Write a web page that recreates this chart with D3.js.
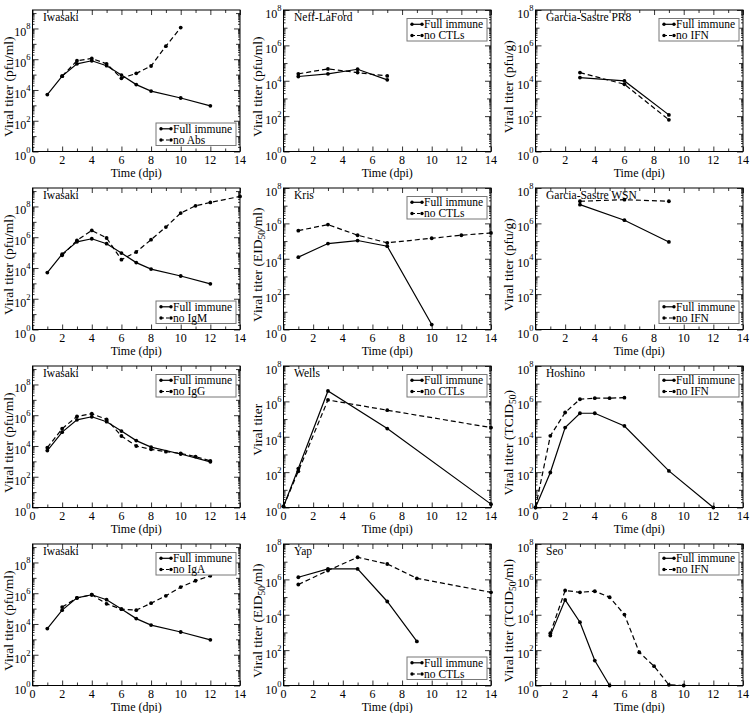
<!DOCTYPE html>
<html><head><meta charset="utf-8">
<script src="https://cdn.jsdelivr.net/npm/d3@7/dist/d3.min.js"></script>
<style>body{margin:0;background:#fff}svg{display:block}</style>
</head><body><svg id="c" width="751" height="713"></svg>
<script>
// ---- data (log10 of viral titer) ----
const titles = ["Iwasaki","Neff-LaFord","Garcia-Sastre PR8","Iwasaki","Kris","Garcia-Sastre WSN","Iwasaki","Wells","Hoshino","Iwasaki","Yap","Seo"];
const seriesNames = [["Full immune","no Abs"],["Full immune","no CTLs"],["Full immune","no IFN"],["Full immune","no IgM"],["Full immune","no CTLs"],["Full immune","no IFN"],["Full immune","no IgG"],["Full immune","no CTLs"],["Full immune","no IFN"],["Full immune","no IgA"],["Full immune","no CTLs"],["Full immune","no IFN"]];
const yUnits = ["pfu/ml","pfu/ml","pfu/g","pfu/ml","EID|50|/ml","pfu/g","pfu/ml","","TCID|50|","pfu/ml","EID|50|/ml","TCID|50|/ml"];
const legendPos = ["bottom","top","top","bottom","top","bottom","top","top","top","top","bottom","top"];
const xTicks = [0,2,4,6,8,10,12,14];
const yTickExps = [0,2,4,6,8];

const iwaDays = [1,2,3,4,5,6,7,8,10,12];
const iwaFull = [3.7,4.9,5.7,5.9,5.58,4.97,4.35,3.93,3.48,2.97];

const p1Full = {x: iwaDays, y: iwaFull};
const p1Dash = {x:[2,3,4,5,6,7,8,9,10], y:[4.9,5.9,6.05,5.7,4.76,5.08,5.56,6.85,8.06]};
const p2Full = {x:[1,3,5,7], y:[4.24,4.39,4.65,4.05]};
const p2Dash = {x:[1,3,5,7], y:[4.39,4.67,4.46,4.27]};
const p3Full = {x:[3,6,9], y:[4.18,3.99,2.07]};
const p3Dash = {x:[3,6,9], y:[4.46,3.8,1.79]};
const p4Full = {x: iwaDays, y: iwaFull};
const p4Dash = {x:[2,3,4,5,6,7,8,9,10,11,12,14], y:[4.82,5.8,6.44,5.95,4.54,5.04,5.84,6.66,7.57,8.04,8.26,8.65]};
const p5Full = {x:[1,3,5,7,10], y:[4.09,4.86,5.03,4.71,0.28]};
const p5Dash = {x:[1,3,5,7,10,12,14], y:[5.59,5.93,5.33,4.9,5.16,5.33,5.46]};
const p6Full = {x:[3,6,9], y:[7.06,6.18,4.95]};
const p6Dash = {x:[3,6,9], y:[7.25,7.34,7.25]};
const p7Full = {x: iwaDays, y: iwaFull};
const p7Dash = {x:[1,2,3,4,5,6,7,8,9,10,11,12], y:[3.89,5.12,5.92,6.1,5.73,4.65,4.0,3.78,3.63,3.52,3.31,3.03]};
const p8Full = {x:[0,1,3,7,14], y:[0.06,2.2,6.59,4.46,0.19]};
const p8Dash = {x:[0,1,3,7,14], y:[0.06,2.05,6.08,5.5,4.52]};
const p9Full = {x:[0,1,2,3,4,6,9,12], y:[0,1.98,4.52,5.33,5.33,4.61,2.07,0]};
const p9Dash = {x:[0,1,2,3,4,5,6], y:[0,4.05,5.37,6.12,6.18,6.18,6.21]};
const p10Full = {x: iwaDays, y: iwaFull};
const p10Dash = {x:[2,3,4,5,6,7,8,9,10,11,12], y:[5.1,5.69,5.9,5.31,4.96,4.9,5.35,5.83,6.4,6.81,7.13]};
const p11Full = {x:[1,3,5,7,9], y:[6.12,6.59,6.59,4.75,2.49]};
const p11Dash = {x:[1,3,5,7,9,14], y:[5.71,6.5,7.25,6.87,6.06,5.27]};
const p12Full = {x:[1,2,3,4,5], y:[2.82,4.84,3.58,1.41,0]};
const p12Dash = {x:[1,2,3,4,5,6,7,8,9,10], y:[2.96,5.37,5.27,5.33,4.99,4.01,1.88,1.09,0.04,0]};

const fullSeries = [p1Full,p2Full,p3Full,p4Full,p5Full,p6Full,p7Full,p8Full,p9Full,p10Full,p11Full,p12Full];
const dashSeries = [p1Dash,p2Dash,p3Dash,p4Dash,p5Dash,p6Dash,p7Dash,p8Dash,p9Dash,p10Dash,p11Dash,p12Dash];

// ---- layout ----
const svg = d3.select("#c");
const FF = "'Liberation Serif', 'Times New Roman', Times, serif";
svg.style("font-family", FF);
const colLeft = [32.5, 283.5, 535.5];
const plotW = 207.5, plotH = 141.5, rowStep = 178, top0 = 10;

titles.forEach((title, i) => {
  const r = Math.floor(i/3), c = i%3;
  const L = colLeft[c], R = L + plotW, T = top0 + r*rowStep, B = T + plotH;
  const yTopExp = c === 0 ? 9.2 : 8;
  const x = d3.scaleLinear().domain([0,14]).range([L,R]);
  const y = d3.scaleLog().domain([1, Math.pow(10,yTopExp)]).range([B,T]);
  const g = svg.append("g");
  const txt = () => g.append("text").style("font-family", FF).attr("fill","#000");

  // axes (inward ticks on all four sides)
  const xMinor = d3.range(0,15,1).filter(v=>v%2);
  g.append("g").attr("transform",`translate(0,${B})`).call(d3.axisBottom(x).tickValues(xTicks).tickSizeInner(-5).tickSizeOuter(0).tickFormat(""));
  g.append("g").attr("transform",`translate(0,${T})`).call(d3.axisTop(x).tickValues(xTicks).tickSizeInner(-5).tickSizeOuter(0).tickFormat(""));
  g.append("g").attr("transform",`translate(0,${B})`).call(d3.axisBottom(x).tickValues(xMinor).tickSizeInner(-3).tickSizeOuter(0).tickFormat(""));
  g.append("g").attr("transform",`translate(0,${T})`).call(d3.axisTop(x).tickValues(xMinor).tickSizeInner(-3).tickSizeOuter(0).tickFormat(""));
  const majY = yTickExps.map(e=>Math.pow(10,e));
  const oddY = d3.range(1, Math.floor(yTopExp)+1, 2).map(e=>Math.pow(10,e));
  const subY = [];
  for (let e=0; e<Math.ceil(yTopExp); e++) for (let k=2;k<=9;k++){const v=k*Math.pow(10,e); if (Math.log10(v)<=yTopExp) subY.push(v);}
  [[d3.axisLeft, L],[d3.axisRight, R]].forEach(([ax, pos])=>{
    g.append("g").attr("transform",`translate(${pos},0)`).call(ax(y).tickValues(majY).tickSizeInner(-6).tickSizeOuter(0).tickFormat(""));
    g.append("g").attr("transform",`translate(${pos},0)`).call(ax(y).tickValues(oddY).tickSizeInner(-4).tickSizeOuter(0).tickFormat(""));
    g.append("g").attr("transform",`translate(${pos},0)`).call(ax(y).tickValues(subY).tickSizeInner(-2).tickSizeOuter(0).tickFormat(""));
  });
  g.selectAll(".domain").remove();
  g.selectAll(".tick line").attr("stroke","#000").attr("stroke-width",0.8);
  g.append("rect").attr("x",L).attr("y",T).attr("width",R-L).attr("height",B-T).attr("fill","none").attr("stroke","#000").attr("stroke-width",1);

  // tick labels
  xTicks.forEach(v=>{
    txt().attr("x",x(v)).attr("y",B+12.5).attr("text-anchor","middle").attr("font-size",12).text(v);
  });
  yTickExps.forEach(e=>{
    const t = txt().attr("x",L-2).attr("y",y(Math.pow(10,e))+8).attr("text-anchor","end").attr("font-size",12);
    t.append("tspan").text("10");
    t.append("tspan").attr("dy",-7).attr("font-size",8.5).text(e);
  });
  txt().attr("x",(L+R)/2).attr("y",B+25).attr("text-anchor","middle").attr("font-size",12).text("Time (dpi)");

  // y label
  const mid = (T+B)/2 + (yUnits[i]==="" ? -7 : 6);
  const yl = txt().attr("transform",`translate(${c===0?12.5:c===1?262:512.5},${mid}) rotate(-90)`).attr("text-anchor","middle").attr("font-size",13.5);
  if (yUnits[i]==="") { yl.text("Viral titer"); }
  else {
    const parts = yUnits[i].split("|");
    if (parts.length>1){
      yl.append("tspan").text("Viral titer (" + parts[0]);
      yl.append("tspan").attr("dy",3).attr("font-size",9.5).text(parts[1]);
      yl.append("tspan").attr("dy",-3).text(parts[2] + ")");
    } else { yl.text("Viral titer (" + parts[0] + ")"); }
  }

  // title
  txt().attr("x",L+10.5).attr("y",T+10.5).attr("font-size",11.5).text(title);

  // lines
  const line = d3.line().x(d=>x(d[0])).y(d=>y(Math.pow(10,d[1])));
  [[fullSeries[i], null],[dashSeries[i], "5,3"]].forEach(([s, dash])=>{
    const pts = s.x.map((v,k)=>[v, s.y[k]]);
    g.append("path").attr("d",line(pts)).attr("fill","none").attr("stroke","#000").attr("stroke-width",1.2).attr("stroke-dasharray",dash);
    g.selectAll(null).data(pts).enter().append("circle").attr("cx",d=>x(d[0])).attr("cy",d=>y(Math.pow(10,d[1]))).attr("r",1.9).attr("fill","#000");
  });

  // legend
  const lw = 80, lh = 22.5;
  const lx = R - 4 - lw;
  const ly = legendPos[i]==="top" ? T + 8.5 : B - 6 - lh;
  g.append("rect").attr("x",lx).attr("y",ly).attr("width",lw).attr("height",lh).attr("fill","#fff").attr("stroke","#777").attr("stroke-width",1);
  seriesNames[i].forEach((nm,k)=>{
    const yy = ly + 5.8 + k*11.2;
    g.append("line").attr("x1",lx+5).attr("x2",lx+15).attr("y1",yy).attr("y2",yy).attr("stroke","#000").attr("stroke-width",1.2).attr("stroke-dasharray",k?"3,2":null);
    [lx+5,lx+15].forEach(cx=>g.append("circle").attr("cx",cx).attr("cy",yy).attr("r",1.7).attr("fill","#000"));
    txt().attr("x",lx+17).attr("y",yy+3.8).attr("font-size",11.5).text(nm);
  });
});
</script></body></html>
